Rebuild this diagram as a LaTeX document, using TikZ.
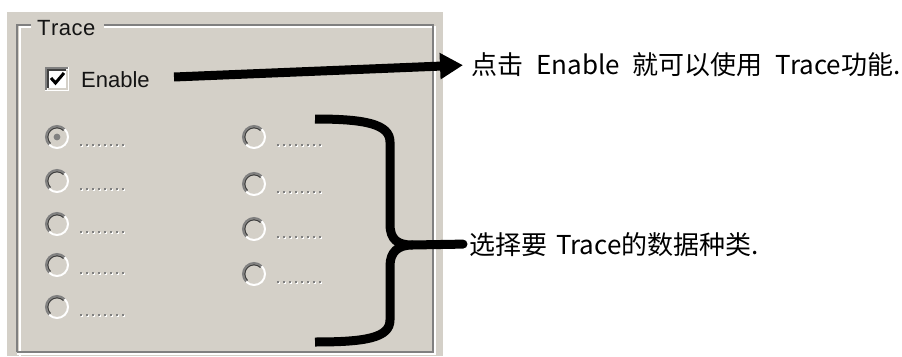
\documentclass[tikz,border=0pt]{standalone}
\usepackage{fontspec}
\setmainfont{Liberation Sans}
\newfontfamily\cjk{Noto Sans CJK SC}
\usetikzlibrary{arrows.meta}
\definecolor{btnface}{RGB}{212,208,200}
\definecolor{btnshadow}{RGB}{128,128,128}
\definecolor{btndark}{RGB}{64,64,64}
\definecolor{ink}{RGB}{20,20,20}
\tikzset{
  uitext/.style={font=\fontsize{22}{26}\selectfont, text=ink, inner sep=0pt},
  note/.style={font=\cjk\fontsize{26}{30}\selectfont, text=black, inner sep=0pt},
  etchdark/.style={draw=btnshadow, line width=2pt},
  etchlight/.style={draw=white, line width=2pt},
  pointer/.style={line width=9pt, -{Triangle[length=23pt,width=25pt]}},
  bracepath/.style={line width=9pt, line join=round},
  dotslabel/.style={line width=2.6pt, dash pattern=on 2pt off 4pt},
  radio/.pic={
    \draw[draw=btnshadow, line width=2pt] (45:11pt) arc[start angle=45, end angle=225, radius=11pt];
    \draw[draw=btndark, line width=1.2pt] (45:9.2pt) arc[start angle=45, end angle=225, radius=9.2pt];
    \draw[draw=white, line width=2pt] (225:11pt) arc[start angle=225, end angle=405, radius=11pt];
  }
}
\newcommand\optionitem[3]{%
  \pic at (#1,#2) {radio};
  \draw[dotslabel, draw=white] (#1+24,#2+9) -- ++(47,0);
  \draw[dotslabel, draw=btnshadow] (#1+23,#2+8) -- ++(47,0);
  \ifx#31\fill[fill=btnshadow] (#1,#2) circle[radius=3.4pt];\fi
}
\begin{document}
\begin{tikzpicture}[x=1pt, y=-1pt]
\useasboundingbox (0,0) rectangle (902,356);
\fill[fill=white] (0,0) rectangle (902,356);

% dialog panel
\fill[fill=btnface] (7,12) rectangle (443,356);

% etched group frame
\draw[etchlight] (19.5,356) -- (19.5,27) -- (31,27);
\draw[etchlight] (104,27) -- (435,27) -- (435,354) -- (17,354);
\draw[etchdark] (17,352) -- (17,24.5) -- (31,24.5);
\draw[etchdark] (104,24.5) -- (432.5,24.5) -- (432.5,351.5) -- (17,351.5);

\node[uitext, anchor=base west] (lblTrace) at (37,35) {T\kern0.5pt r\kern0.5pt a\kern0.5pt c\kern0.5pt e};

% check box
\fill[fill=white] (45,67) rectangle (69,91);
\draw[draw=btnshadow, line width=2pt] (46,90) -- (46,68) -- (68,68);
\draw[draw=btndark, line width=2pt] (48,88) -- (48,70) -- (66,70);
\draw[draw=btnface, line width=2pt] (48,89) -- (67,89) -- (67,70);
\node[draw=none, minimum size=24pt, inner sep=0pt] (chk) at (57,79) {};
\draw[draw=black, line width=3pt, line join=miter] (51,78) -- (55.5,83) -- (64,73);
\node[uitext, anchor=base west] (lblEnable) at (81,87) {Enable};

% option buttons, left column
\optionitem{57}{137}{1}
\optionitem{57}{181}{0}
\optionitem{57}{224}{0}
\optionitem{57}{265}{0}
\optionitem{57}{307}{0}
% option buttons, right column
\optionitem{254}{137}{0}
\optionitem{254}{184}{0}
\optionitem{254}{229}{0}
\optionitem{254}{274}{0}

% explanatory notes
\node[note, anchor=base west] (note1) at (471,74)
  {点击\hspace{0.5em}Enable\hspace{0.5em}就可以使用\hspace{0.5em}Trace功能.};
\node[note, anchor=base west] (note2) at (469,254)
  {选择要\hspace{0.35em}Trace的数据种类.};

% arrow from the check box caption to its note
\coordinate (arrowStart) at (174,77);
\draw[pointer] (arrowStart) -- ([xshift=-8pt,yshift=-1pt]note1.west);

% brace gathering the option buttons
\coordinate (braceTop) at (315,119);
\coordinate (braceBottom) at (315,342);
\coordinate (braceMid) at (412,245);
\draw[bracepath] (braceTop) .. controls (365,119) and (390,124) .. (390,142)
  -- (390,224) .. controls (390,240) and (398,245) .. (braceMid)
  .. controls (398,245) and (390,252) .. (390,266)
  -- (390,320) .. controls (390,338) and (365,342) .. (braceBottom);
\draw[line width=9pt, line cap=round] (braceMid) -- ([xshift=-6pt]note2.west);
\end{tikzpicture}
\end{document}
